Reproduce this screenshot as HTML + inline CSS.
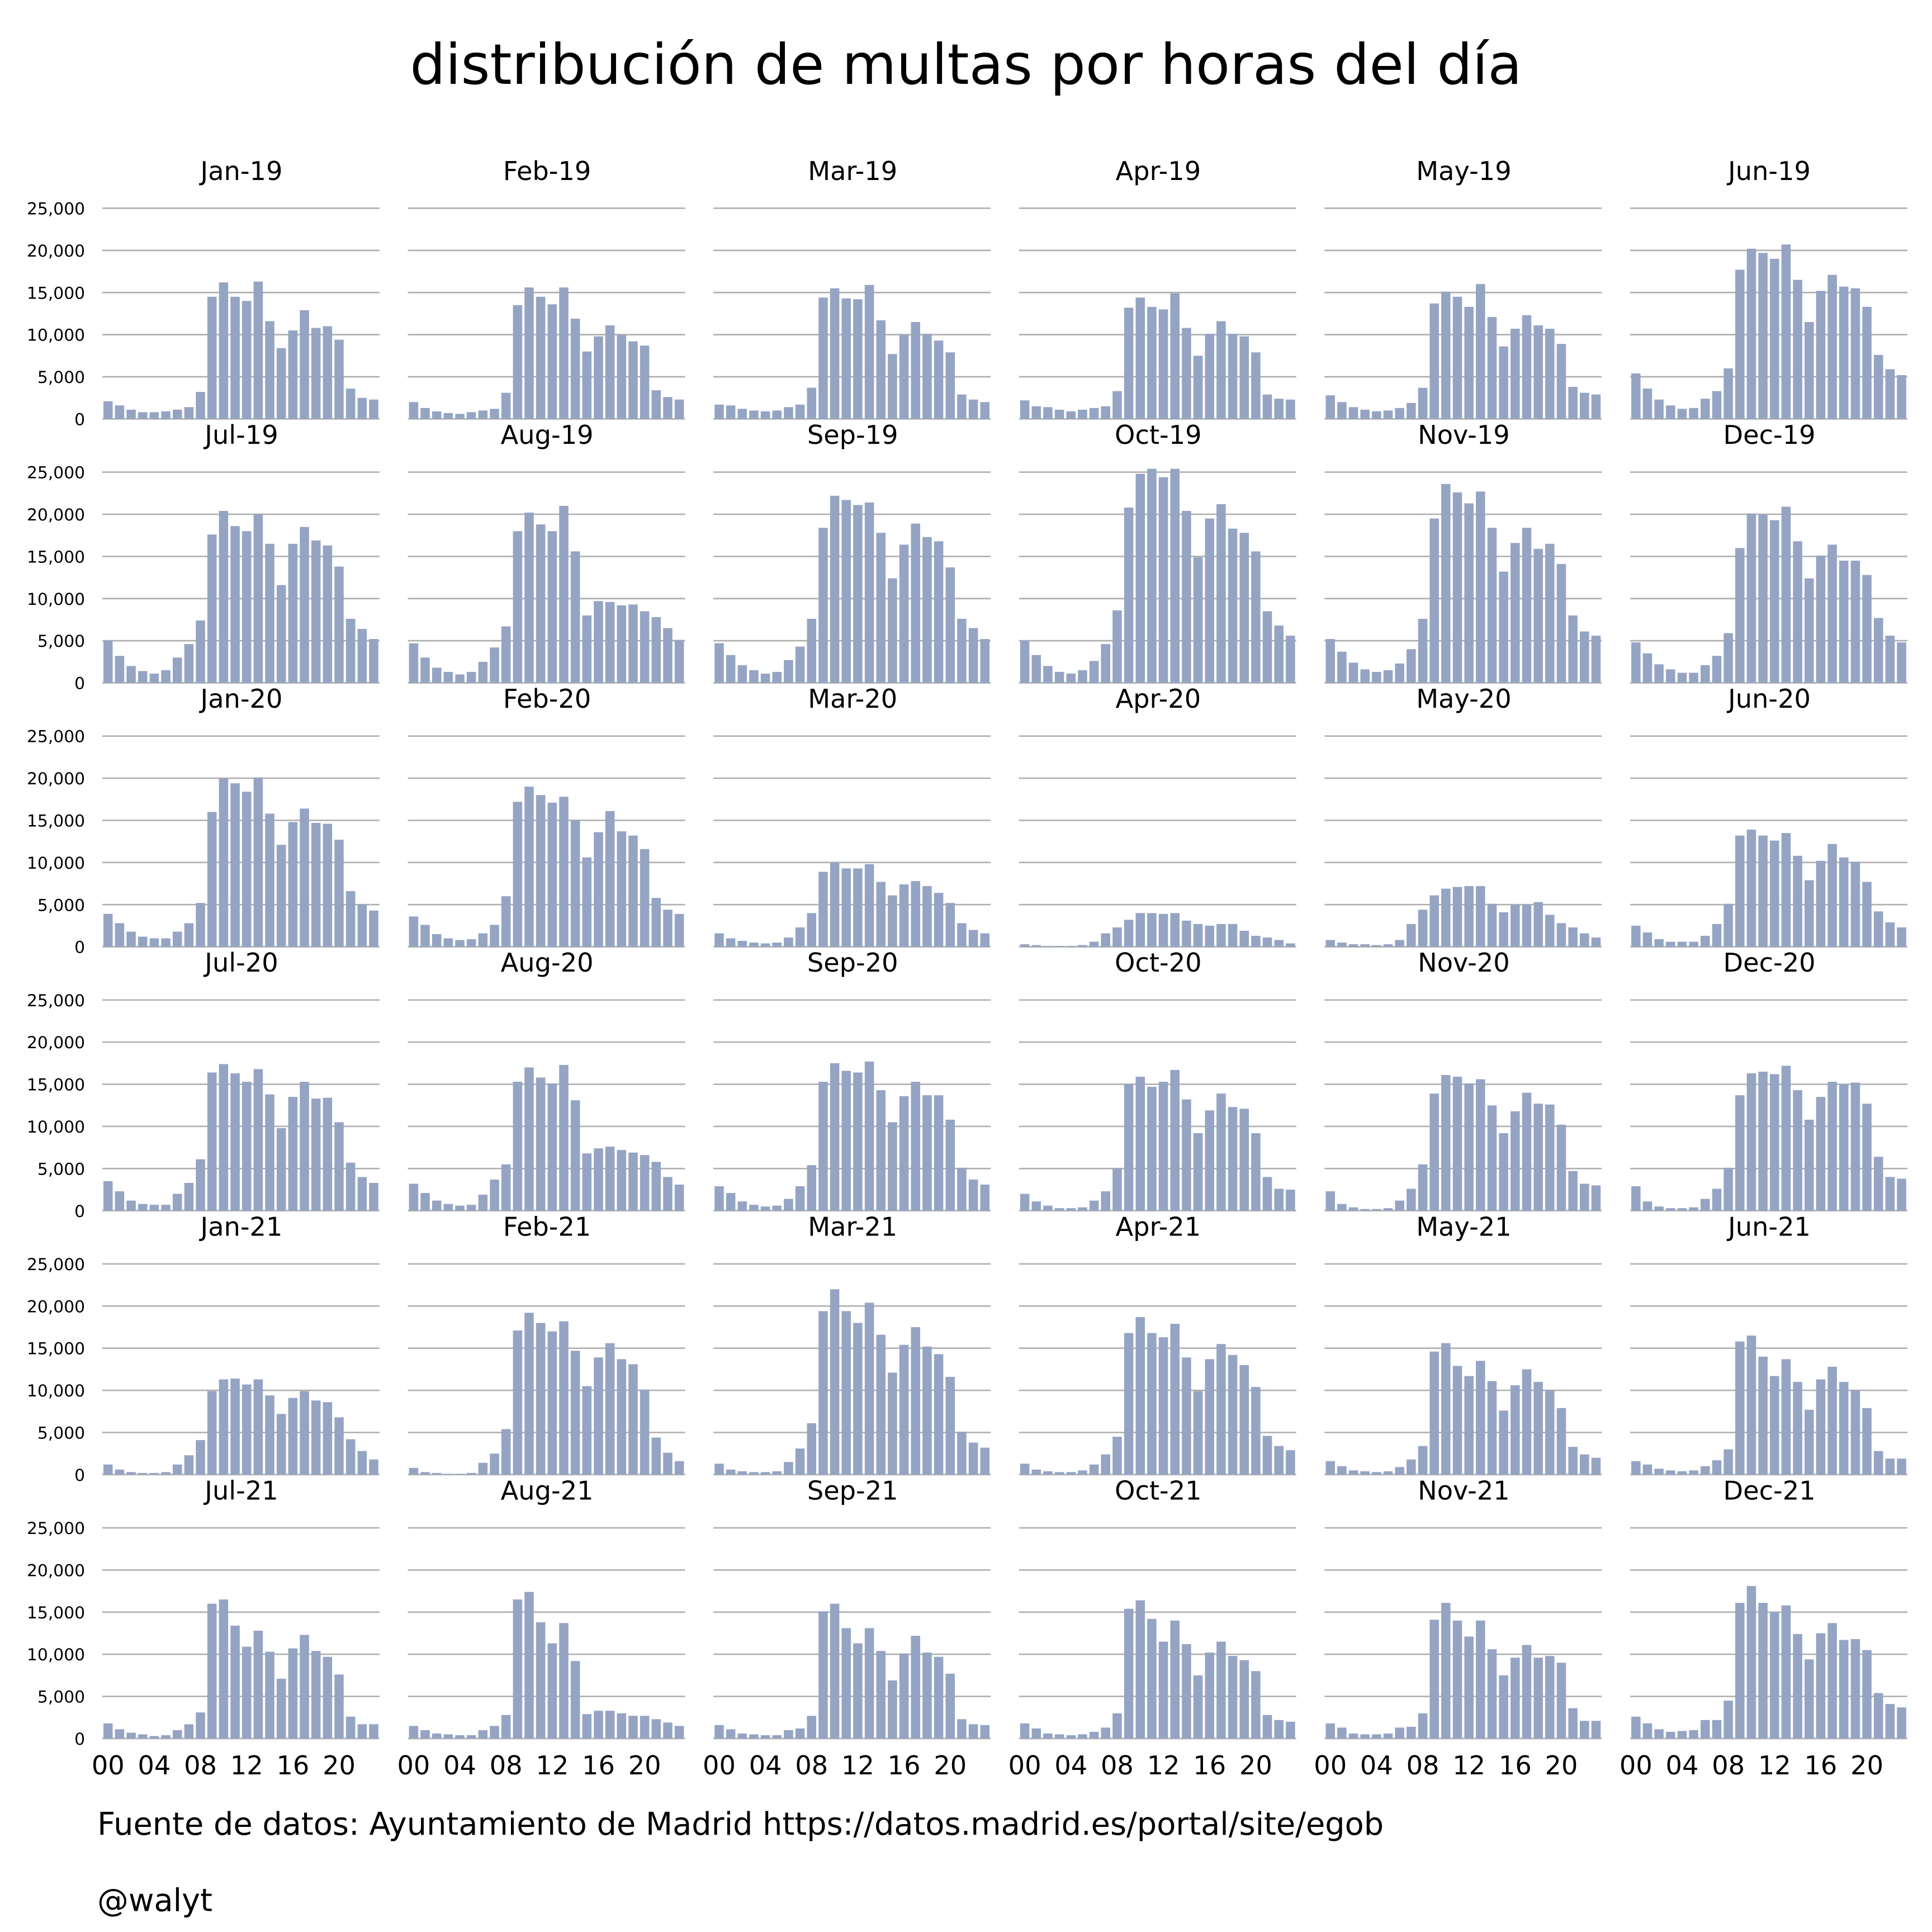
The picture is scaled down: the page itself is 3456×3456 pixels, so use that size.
<!DOCTYPE html>
<html><head><meta charset="utf-8">
<style>
html,body{margin:0;padding:0;background:#fff;}
svg{display:block;font-family:"DejaVu Sans","Liberation Sans",sans-serif;}
</style></head>
<body>
<svg id="chart" width="3456" height="3456" viewBox="0 0 1568 1568" xmlns="http://www.w3.org/2000/svg">
<rect width="1568" height="1568" fill="#fff"/>
<text x="784" y="68" font-size="45.3" text-anchor="middle" fill="#000">distribución de multas por horas del día</text>
<g id="panels"></g>
<text x="79" y="1489" font-size="25.3" fill="#000">Fuente de datos: Ayuntamiento de Madrid https://datos.madrid.es/portal/site/egob</text>
<text x="79" y="1551" font-size="25.3" fill="#000">@walyt</text>
</svg>
<script>
const months = ["Jan-19","Feb-19","Mar-19","Apr-19","May-19","Jun-19","Jul-19","Aug-19","Sep-19","Oct-19","Nov-19","Dec-19","Jan-20","Feb-20","Mar-20","Apr-20","May-20","Jun-20","Jul-20","Aug-20","Sep-20","Oct-20","Nov-20","Dec-20","Jan-21","Feb-21","Mar-21","Apr-21","May-21","Jun-21","Jul-21","Aug-21","Sep-21","Oct-21","Nov-21","Dec-21"];
const yTicks = [0,5000,10000,15000,20000,25000];
const yTickLabels = ["0","5,000","10,000","15,000","20,000","25,000"];
const xTicks = [0,4,8,12,16,20];
const xTickLabels = ["00","04","08","12","16","20"];
// values in thousands, hours 00..23
const v0 = [2.1,1.6,1.1,0.8,0.8,0.9,1.1,1.4,3.2,14.5,16.2,14.5,14,16.3,11.6,8.4,10.5,12.9,10.8,11,9.4,3.6,2.5,2.3];
const v1 = [2.0,1.3,0.9,0.7,0.6,0.8,1.0,1.2,3.1,13.5,15.6,14.5,13.6,15.6,11.9,8.0,9.8,11.1,10,9.2,8.7,3.4,2.6,2.3];
const v2 = [1.7,1.6,1.2,1.0,0.9,1.0,1.4,1.7,3.7,14.4,15.5,14.3,14.2,15.9,11.7,7.7,10,11.5,10.1,9.3,7.9,2.9,2.3,2.0];
const v3 = [2.2,1.5,1.4,1.1,0.9,1.1,1.3,1.5,3.3,13.2,14.4,13.3,13,14.9,10.8,7.5,10.1,11.6,10.1,9.8,7.9,2.9,2.4,2.3];
const v4 = [2.8,2.0,1.4,1.1,0.9,1.0,1.3,1.9,3.7,13.7,15.1,14.5,13.3,16.0,12.1,8.6,10.7,12.3,11.1,10.7,8.9,3.8,3.1,2.9];
const v5 = [5.4,3.6,2.3,1.6,1.2,1.3,2.4,3.3,6.0,17.7,20.2,19.7,19,20.7,16.5,11.5,15.2,17.1,15.7,15.5,13.3,7.6,5.9,5.2];
const v6 = [5.0,3.2,2.0,1.4,1.1,1.5,3.0,4.6,7.4,17.6,20.4,18.6,18,20.0,16.5,11.6,16.5,18.5,16.9,16.3,13.8,7.6,6.4,5.2];
const v7 = [4.7,3.0,1.8,1.3,1.0,1.3,2.5,4.2,6.7,18,20.2,18.8,18,21,15.6,8,9.7,9.6,9.2,9.3,8.5,7.8,6.5,5.1];
const v8 = [4.7,3.3,2.1,1.5,1.1,1.3,2.7,4.3,7.6,18.4,22.2,21.7,21.1,21.4,17.8,12.4,16.4,18.9,17.3,16.8,13.7,7.6,6.5,5.2];
const v9 = [5.0,3.3,2.0,1.3,1.1,1.5,2.6,4.6,8.6,20.8,24.8,25.4,24.4,25.4,20.4,14.9,19.5,21.2,18.3,17.8,15.6,8.5,6.8,5.6];
const v10 = [5.2,3.7,2.4,1.6,1.3,1.5,2.3,4.0,7.6,19.5,23.6,22.6,21.3,22.7,18.4,13.2,16.6,18.4,15.9,16.5,14.1,8.0,6.1,5.6];
const v11 = [4.8,3.5,2.2,1.6,1.2,1.2,2.1,3.2,5.9,16,20.1,20,19.3,20.9,16.8,12.4,15.1,16.4,14.5,14.5,12.8,7.7,5.6,4.8];
const v12 = [3.9,2.8,1.8,1.2,1,1,1.8,2.8,5.2,16,20,19.4,18.4,20.1,15.8,12.1,14.8,16.4,14.7,14.6,12.7,6.6,5,4.3];
const v13 = [3.6,2.6,1.5,1,0.8,0.9,1.6,2.6,6.0,17.2,19,18,17.1,17.8,15,10.6,13.6,16.1,13.7,13.2,11.6,5.8,4.4,3.9];
const v14 = [1.6,1.0,0.7,0.5,0.4,0.5,1.1,2.3,4.0,8.9,10,9.3,9.3,9.8,7.7,6.1,7.4,7.8,7.2,6.4,5.2,2.8,2,1.6];
const v15 = [0.3,0.2,0.1,0.1,0.1,0.2,0.6,1.6,2.3,3.2,4,4,3.9,4,3.1,2.7,2.5,2.7,2.7,1.9,1.3,1.1,0.8,0.4];
const v16 = [0.8,0.5,0.3,0.3,0.2,0.3,0.8,2.7,4.4,6.1,6.9,7.1,7.2,7.2,5.1,4.1,5,5,5.3,3.8,2.8,2.3,1.6,1.1];
const v17 = [2.5,1.7,0.9,0.6,0.6,0.6,1.3,2.7,5.1,13.2,13.9,13.2,12.6,13.5,10.8,7.9,10.2,12.2,10.6,10.1,7.7,4.2,2.9,2.3];
const v18 = [3.5,2.3,1.2,0.8,0.7,0.7,2.0,3.3,6.1,16.4,17.4,16.3,15.3,16.8,13.8,9.8,13.5,15.3,13.3,13.4,10.5,5.7,4.0,3.3];
const v19 = [3.2,2.1,1.2,0.8,0.6,0.7,1.9,3.7,5.5,15.3,17,15.8,15.1,17.3,13.1,6.8,7.4,7.6,7.2,6.9,6.6,5.8,4,3.1];
const v20 = [2.9,2.1,1.1,0.7,0.5,0.6,1.4,2.9,5.4,15.3,17.5,16.6,16.4,17.7,14.3,10.5,13.6,15.3,13.7,13.7,10.8,5.1,3.7,3.1];
const v21 = [2.0,1.1,0.6,0.3,0.3,0.4,1.2,2.3,5.0,15,15.9,14.7,15.3,16.7,13.2,9.2,11.9,13.9,12.3,12.1,9.2,4.0,2.6,2.5];
const v22 = [2.3,0.8,0.4,0.2,0.2,0.3,1.2,2.6,5.5,13.9,16.1,15.9,15.1,15.6,12.5,9.2,11.8,14.0,12.7,12.6,10.2,4.7,3.2,3.0];
const v23 = [2.9,1.1,0.5,0.3,0.3,0.4,1.4,2.6,5.1,13.7,16.3,16.5,16.2,17.2,14.3,10.8,13.5,15.3,15.0,15.2,12.7,6.4,4,3.8];
const v24 = [1.2,0.6,0.3,0.2,0.2,0.3,1.2,2.3,4.1,9.9,11.3,11.4,10.7,11.3,9.4,7.2,9.1,9.9,8.8,8.6,6.8,4.2,2.8,1.8];
const v25 = [0.8,0.3,0.2,0.1,0.1,0.2,1.4,2.5,5.4,17.1,19.2,18,17,18.2,14.7,10.5,13.9,15.6,13.7,13.1,10.1,4.4,2.6,1.6];
const v26 = [1.3,0.6,0.4,0.3,0.3,0.4,1.5,3.1,6.1,19.4,22,19.4,18,20.4,16.6,12.1,15.4,17.5,15.2,14.3,11.6,5.1,3.8,3.2];
const v27 = [1.3,0.6,0.4,0.3,0.3,0.5,1.2,2.4,4.5,16.8,18.7,16.8,16.3,17.9,13.9,9.9,13.7,15.5,14.2,13,10.4,4.6,3.4,2.9];
const v28 = [1.6,1.0,0.5,0.4,0.3,0.4,0.9,1.8,3.4,14.6,15.6,12.9,11.7,13.5,11.1,7.6,10.6,12.5,11.0,10.0,7.9,3.3,2.4,2.0];
const v29 = [1.6,1.2,0.7,0.5,0.4,0.5,1.0,1.7,3.0,15.8,16.5,14.0,11.7,13.7,11.0,7.7,11.3,12.8,11.0,10.0,7.9,2.8,1.9,1.9];
const v30 = [1.8,1.1,0.7,0.5,0.3,0.4,1.0,1.7,3.1,16,16.5,13.4,10.9,12.8,10.3,7.1,10.7,12.3,10.4,9.7,7.6,2.6,1.7,1.7];
const v31 = [1.5,1.0,0.6,0.5,0.4,0.4,1.0,1.5,2.8,16.5,17.4,13.8,11.3,13.7,9.2,2.9,3.3,3.3,3.0,2.7,2.7,2.3,1.9,1.5];
const v32 = [1.6,1.1,0.6,0.5,0.4,0.4,1.0,1.2,2.7,15.1,16,13.1,11.3,13.1,10.4,6.9,10.1,12.2,10.2,9.7,7.7,2.3,1.7,1.6];
const v33 = [1.8,1.2,0.6,0.5,0.4,0.5,0.8,1.3,3.0,15.4,16.4,14.2,11.5,14.0,11.2,7.5,10.2,11.5,9.8,9.3,8.0,2.8,2.2,2.0];
const v34 = [1.8,1.3,0.6,0.5,0.5,0.6,1.3,1.4,3.0,14.1,16.1,14.0,12.1,14.0,10.6,7.5,9.6,11.1,9.6,9.8,9.0,3.6,2.1,2.1];
const v35 = [2.6,1.8,1.1,0.8,0.9,1.0,2.2,2.2,4.5,16.1,18.1,16.1,15,15.8,12.4,9.4,12.5,13.7,11.7,11.8,10.5,5.4,4.1,3.7];
const series = [v0,v1,v2,v3,v4,v5,v6,v7,v8,v9,v10,v11,v12,v13,v14,v15,v16,v17,v18,v19,v20,v21,v22,v23,v24,v25,v26,v27,v28,v29,v30,v31,v32,v33,v34,v35];

const NS = "http://www.w3.org/2000/svg";
const root = document.getElementById("panels");
const PW = 225, PH = 171, YMAX = 25000, SLOT = PW / 24;
function mk(tag, attrs, parent){ const e=document.createElementNS(NS,tag); for(const k in attrs) e.setAttribute(k, attrs[k]); parent.appendChild(e); return e; }

for (let p = 0; p < months.length; p++) {
  const col = p % 6, row = Math.floor(p / 6);
  const x0 = 83 + col * 248;
  const base = 340 + row * 214.2;
  const xs = h => x0 + (h + 0.5) * SLOT;
  const ys = v => base - v / YMAX * PH;
  const g = mk("g", {}, root);
  
  
  const t = mk("text", {x: x0 + PW/2 + 0.5, y: base - 194, "font-size": 21, "text-anchor": "middle", fill: "#000"}, g);
  
  
  t.textContent = months[p];
  for (let i = 0; i < yTicks.length; i++) {
    const y = ys(yTicks[i]);
    const gl = mk("line", {x1: x0, x2: x0 + PW, y1: y, y2: y, stroke: "#b0b0b0", "stroke-width": 1.2}, g);
    
    
    if (col === 0) {
      const lt = mk("text", {x: 69, y: y + 5, "font-size": 13.5, "text-anchor": "end", fill: "#000"}, g);
      
      
      lt.textContent = yTickLabels[i];
    }
  }
  const vals = series[p];
  for (let h = 0; h < vals.length; h++) {
    const v = vals[h] * 1000;
    const bw = SLOT * 0.8;
    const r = mk("rect", {x: xs(h) - bw/2, y: ys(v), width: bw, height: base - ys(v), fill: "#95a4c3"}, g);
    
    
  }
  if (row === 5) {
    for (let i = 0; i < xTicks.length; i++) {
      const xt = mk("text", {x: xs(xTicks[i]), y: 1440, "font-size": 21, "text-anchor": "middle", fill: "#000"}, g);
      
      
      xt.textContent = xTickLabels[i];
    }
  }
}
</script>
</body></html>
